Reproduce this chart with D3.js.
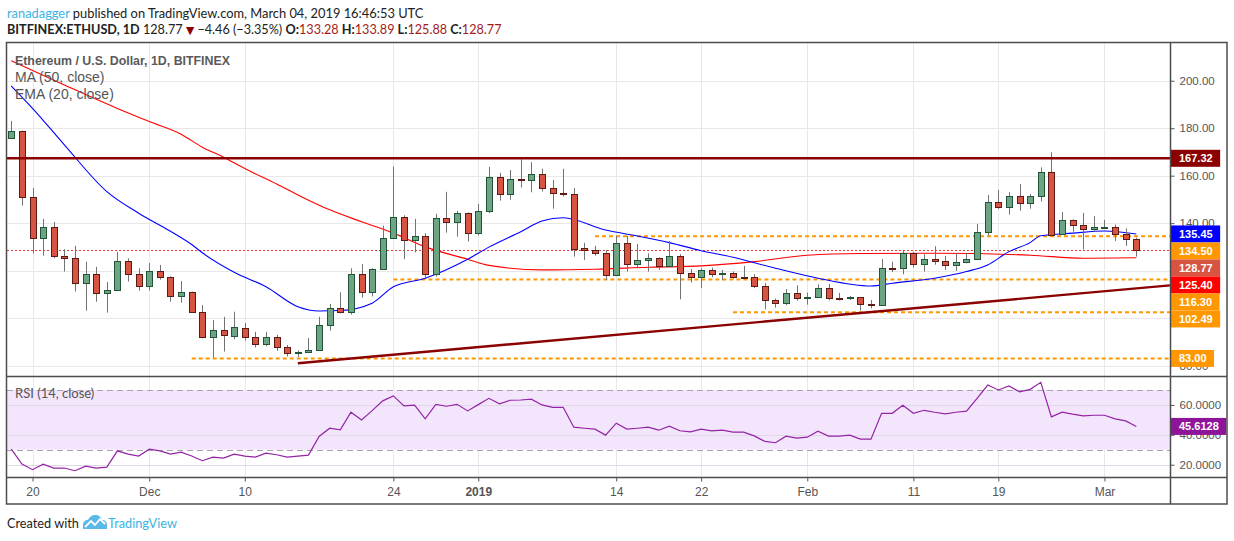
<!DOCTYPE html>
<meta charset="utf-8">
<style>
body { margin: 0; background: #fff; }
svg { display: block; }
.tv text { font-family: "Liberation Sans", Arial, sans-serif; }
.tv .head { font-family: Lato, "Open Sans", sans-serif; fill: #222; }
.axis text { fill: #555; font-size: 11.5px; }
.axis line { stroke: #555; }
.axis .domain { display: none; }
.grid line { stroke: #e8e8e8; shape-rendering: crispEdges; }
.tag text { fill: #fff; font-weight: bold; font-size: 11px; }
</style>

<svg class="tv" width="1234" height="541"></svg>

<script src="https://cdnjs.cloudflare.com/ajax/libs/d3/7.8.5/d3.min.js"></script>

<script>

// ---- data ----
var firstDay = "2018-11-18", lastDay = "2019-03-04";

var opens = [
175.8,178.9,150.9,133.6,138.3,126.0,125.2,114.7,118.5,110.4,
111.7,124.1,118.5,113.4,119.7,117.2,109.2,110.9,102.4,91.9,
94.9,92.7,95.8,91.9,89.0,91.9,87.7,85.2,85.7,86.4,
97.1,104.1,102.5,118.5,110.9,120.6,133.6,142.5,132.8,134.5,
118.5,142.1,140.4,144.2,135.7,145.0,159.3,152.2,158.5,157.9,
160.6,154.7,152.6,152.4,129.4,128.7,127.3,117.9,131.5,122.7,
124.4,125.2,121.7,126.0,118.9,117.3,120.1,118.8,119.0,117.3,
117.2,113.4,107.5,106.2,110.4,108.4,108.8,112.6,108.4,108.3,
108.9,105.9,105.5,121.1,121.0,127.3,122.7,124.8,123.9,122.1,
123.5,124.8,136.2,148.8,146.7,151.3,148.4,151.3,161.4,135.2,
141.2,139.1,137.4,138.2,138.2,135.3,133.28];

var highs = [
183.1,179.0,154.8,141.8,140.5,129.0,130.4,123.7,121.6,115.2,
127.9,125.2,121.0,123.2,122.4,117.6,115.6,111.2,105.5,99.2,
100.5,102.7,97.9,94.2,94.2,92.9,88.7,86.4,91.6,100.5,
106.0,110.9,121.0,122.8,121.0,138.9,163.8,143.3,141.8,135.7,
143.9,153.2,145.2,144.5,148.1,163.7,161.2,162.4,166.9,165.7,
162.9,158.2,162.9,154.8,131.7,130.4,128.7,134.6,134.6,131.2,
127.3,125.6,132.5,126.9,120.7,121.0,121.3,120.3,119.7,122.0,
118.5,114.7,108.2,112.2,113.8,110.7,114.2,114.4,110.6,109.3,
108.9,107.6,124.9,123.7,128.3,127.9,126.9,130.3,126.2,127.3,
127.3,139.7,151.9,154.0,153.0,156.5,152.3,163.5,169.9,144.7,
141.6,144.3,143.0,141.4,139.4,137.8,133.89];

var lows = [
175.5,147.4,127.2,126.3,125.2,119.6,111.2,103.1,106.9,102.3,
111.7,115.4,111.6,111.6,116.2,106.9,106.5,102.4,91.5,83.3,
85.9,91.1,90.5,87.6,88.1,86.2,83.8,83.6,85.6,86.4,
94.7,102.0,101.5,108.6,109.1,120.6,133.6,124.8,127.7,116.8,
117.5,136.0,134.3,132.2,134.8,144.2,149.5,149.9,155.0,153.0,
153.3,146.1,151.2,125.9,124.5,126.3,116.1,117.9,119.6,121.0,
119.6,120.3,121.7,107.9,115.0,112.6,117.2,115.9,116.6,116.4,
112.6,103.7,104.4,105.4,107.4,105.7,108.8,107.5,107.4,107.6,
103.2,104.1,105.3,119.4,118.5,121.3,119.6,122.5,120.3,119.9,
123.1,124.8,134.8,146.0,143.6,145.3,146.1,149.1,134.9,135.2,
136.4,128.9,136.3,138.1,132.5,130.4,125.88];

var closes = [
178.9,150.9,133.6,138.3,126.0,125.2,114.7,118.5,110.4,111.7,
124.1,118.5,113.4,119.7,117.2,109.2,110.9,102.4,91.9,94.9,
92.7,96.3,91.9,89.0,91.9,87.7,85.2,85.7,86.4,97.1,
104.1,102.5,118.5,110.9,120.6,133.6,142.5,132.8,134.5,118.5,
142.1,140.4,144.2,135.7,145.0,159.3,152.2,158.5,157.9,160.6,
154.7,152.6,152.4,129.4,128.7,127.3,117.9,131.5,122.7,124.4,
125.2,121.7,126.0,118.9,117.3,120.1,118.5,119.1,117.2,117.0,
113.4,107.5,106.2,110.4,108.2,108.8,112.6,108.4,108.1,108.9,
105.8,105.5,121.0,120.8,127.3,122.7,124.9,123.9,122.1,123.5,
124.8,136.2,148.8,146.7,151.3,148.4,151.3,161.4,134.9,141.2,
139.1,137.4,138.3,138.4,135.3,133.2,128.77];

var rsi = [
30.4,20.4,16.7,20.4,17.8,17.8,16.0,19.1,17.8,18.4,
29.3,27.1,25.8,30.4,29.3,27.1,28.4,25.8,22.7,25.1,
24.4,27.1,25.8,25.1,27.8,26.7,25.1,25.8,26.4,38.9,
44.4,43.3,55.1,50.0,56.2,62.7,66.0,59.3,59.8,50.7,
60.4,59.1,60.4,56.0,60.2,64.4,60.7,63.1,63.3,63.8,
60.0,58.4,58.4,45.1,44.4,43.8,39.8,47.8,43.8,44.4,
45.1,43.1,45.8,42.7,42.0,43.8,42.7,43.1,41.8,41.8,
39.3,35.6,34.7,39.1,37.8,38.4,42.4,39.1,39.1,39.8,
37.1,37.1,54.4,54.4,59.8,54.4,56.4,55.1,54.0,55.1,
55.8,64.4,73.3,70.0,72.7,68.7,70.4,75.1,52.0,55.1,
53.8,52.7,53.1,53.1,50.7,49.3,45.6128];

var maDates = ["2018-11-18","2018-11-23","2018-11-28","2018-12-01","2018-12-04","2018-12-06",
  "2018-12-08","2018-12-10","2018-12-13","2018-12-15","2018-12-18","2018-12-21","2018-12-24",
  "2018-12-27","2018-12-31","2019-01-02","2019-01-07","2019-01-12","2019-01-17","2019-01-22",
  "2019-01-27","2019-02-01","2019-02-06","2019-02-13","2019-02-22","2019-02-27","2019-03-04"];
var maValues = [208.4,198.2,188.3,182.8,177.5,172.0,167.8,163.0,156.5,151.9,145.6,140.6,135.8,
  130.0,124.8,122.2,120.3,120.6,121.4,122.0,123.8,126.5,127.2,127.3,126.5,125.2,125.40];

var emaDates = ["2018-11-18","2018-11-20","2018-11-23","2018-11-27","2018-11-30","2018-12-03",
  "2018-12-05","2018-12-06","2018-12-09","2018-12-12","2018-12-15","2018-12-17","2018-12-19",
  "2018-12-22","2018-12-24","2018-12-27","2018-12-31","2019-01-02","2019-01-05","2019-01-07",
  "2019-01-09","2019-01-13","2019-01-16","2019-01-19","2019-01-22","2019-01-25","2019-01-29",
  "2019-02-02","2019-02-07","2019-02-09","2019-02-13","2019-02-16","2019-02-18","2019-02-20",
  "2019-02-22","2019-02-23","2019-02-26","2019-03-01","2019-03-04"];
var emaValues = [197.8,188.4,173.0,153.3,144.2,136.6,131.0,127.5,119.3,113.2,104.8,103.0,103.2,
  106.3,113.2,116.8,124.8,129.9,136.4,140.9,142.3,137.1,134.6,131.8,128.4,125.6,121.0,
  116.8,113.5,114.7,116.8,119.6,122.4,128.0,131.8,134.7,135.8,136.7,135.45];

var resistance = 167.32;
var levels = [134.50, 116.30, 102.49, 83.00];
var levelStart = ["2019-01-12", "2018-12-24", "2019-01-25", "2018-12-05"];
var trendDates = ["2018-12-15", "2019-03-04"];
var trendValues = [81.0, 112.5];

var priceTicks = [80, 100, 120, 140, 160, 180, 200];
var rsiTicks = [20, 40, 60];
var dateTicks = ["2018-11-20","2018-12-01","2018-12-10","2018-12-24","2019-01-01","2019-01-14",
  "2019-01-22","2019-02-01","2019-02-11","2019-02-19","2019-03-01"];
var dateTickLabels = ["20","Dec","10","24","2019","14","22","Feb","11","19","Mar"];

// ---- layout ----
var parse = d3.utcParse("%Y-%m-%d");
var paneLeft = 7, paneRight = 1170, paneTop = 43, mainBottom = 376, rsiBottom = 477,
    axisBottom = 504, frameRight = 1227;

var days = d3.utcDay.range(parse(firstDay), d3.utcDay.offset(parse(lastDay), 1));
var candles = days.map(function(d, i) {
	return {date: d, o: opens[i], h: highs[i], l: lows[i], c: closes[i], r: rsi[i]};
});

var x = d3.scaleUtc()
	.domain([parse(firstDay), parse(lastDay)])
	.range([11.3, 1136.3]);

var y = d3.scaleLinear()
	.domain([75.6, 215.9])
	.range([mainBottom, paneTop]);

var yr = d3.scaleLinear()
	.domain([11.8, 79.33])
	.range([rsiBottom, mainBottom]);

var svg = d3.select("svg");
var defs = svg.append("defs");
defs.append("clipPath").attr("id", "clipMain").append("rect")
	.attr("x", paneLeft).attr("y", paneTop).attr("width", paneRight - paneLeft).attr("height", mainBottom - paneTop);
defs.append("clipPath").attr("id", "clipRsi").append("rect")
	.attr("x", paneLeft).attr("y", mainBottom).attr("width", paneRight - paneLeft).attr("height", rsiBottom - mainBottom);

// grid
var grid = svg.append("g").attr("class", "grid");
grid.selectAll("line.h").data(priceTicks).enter().append("line")
	.attr("x1", paneLeft).attr("x2", paneRight)
	.attr("y1", function(d){ return Math.round(y(d)) + 0.5; })
	.attr("y2", function(d){ return Math.round(y(d)) + 0.5; });
grid.selectAll("line.v").data(dateTicks).enter().append("line")
	.attr("x1", function(d){ return Math.round(x(parse(d))) + 0.5; })
	.attr("x2", function(d){ return Math.round(x(parse(d))) + 0.5; })
	.attr("y1", paneTop).attr("y2", rsiBottom);

// rsi band
var rsiG = svg.append("g").attr("clip-path", "url(#clipRsi)");
rsiG.append("rect")
	.attr("x", paneLeft).attr("width", paneRight - paneLeft)
	.attr("y", yr(70)).attr("height", yr(30) - yr(70))
	.attr("fill", "#f3e6fc");
rsiG.selectAll("line.h").data(rsiTicks).enter().append("line")
	.attr("x1", paneLeft).attr("x2", paneRight)
	.attr("y1", function(d){ return Math.round(yr(d)) + 0.5; })
	.attr("y2", function(d){ return Math.round(yr(d)) + 0.5; })
	.attr("stroke", "#e0d8e6");
rsiG.selectAll("line.band").data([70, 30]).enter().append("line")
	.attr("x1", paneLeft).attr("x2", paneRight)
	.attr("y1", function(d){ return Math.round(yr(d)) + 0.5; })
	.attr("y2", function(d){ return Math.round(yr(d)) + 0.5; })
	.attr("stroke", "#aaa3ae").attr("stroke-dasharray", "6,4");
rsiG.append("path")
	.datum(candles)
	.attr("fill", "none").attr("stroke", "#9423a6").attr("stroke-width", 1.2)
	.attr("d", d3.line().x(function(d){ return x(d.date); }).y(function(d){ return yr(d.r); }));

// main pane
var main = svg.append("g").attr("clip-path", "url(#clipMain)");

main.selectAll("line.level").data(levels).enter().append("line")
	.attr("x1", function(d, i){ return x(parse(levelStart[i])); })
	.attr("x2", paneRight)
	.attr("y1", function(d){ return y(d); }).attr("y2", function(d){ return y(d); })
	.attr("stroke", "#ff9800").attr("stroke-width", 2).attr("stroke-dasharray", "4,3");

var lastClose = closes[closes.length - 1];
main.append("line")
	.attr("x1", paneLeft).attr("x2", paneRight)
	.attr("y1", Math.round(y(lastClose)) + 0.5)
	.attr("y2", Math.round(y(lastClose)) + 0.5)
	.attr("stroke", "#e53935").attr("stroke-dasharray", "2,2");

var curve = d3.line()
	.x(function(d){ return x(d.date); })
	.y(function(d){ return y(d.v); })
	.curve(d3.curveMonotoneX);

main.append("path")
	.datum(maDates.map(function(d, i){ return {date: parse(d), v: maValues[i]}; }))
	.attr("fill", "none").attr("stroke", "#ff0000").attr("stroke-width", 1.1)
	.attr("d", curve);
main.append("path")
	.datum(emaDates.map(function(d, i){ return {date: parse(d), v: emaValues[i]}; }))
	.attr("fill", "none").attr("stroke", "#0000ff").attr("stroke-width", 1.1)
	.attr("d", curve);

var bodyW = 6;
var candle = main.selectAll("g.candle").data(candles).enter().append("g")
	.attr("transform", function(d){ return "translate(" + (Math.round(x(d.date)) + 0.5) + ",0)"; });
candle.append("line")
	.attr("y1", function(d){ return y(d.h); })
	.attr("y2", function(d){ return y(d.l); })
	.attr("stroke", "#737375");
candle.append("rect")
	.attr("x", -bodyW / 2)
	.attr("y", function(d){ return Math.round(y(Math.max(d.o, d.c))) + 0.5; })
	.attr("width", bodyW)
	.attr("height", function(d){ return Math.max(1, Math.round(Math.abs(y(d.o) - y(d.c)))); })
	.attr("fill", function(d){ return d.c >= d.o ? "#6ba583" : "#d75442"; })
	.attr("stroke", function(d){ return d.c >= d.o ? "#225437" : "#5b1a13"; });

// resistance and trend line
main.append("line")
	.attr("x1", paneLeft).attr("x2", paneRight)
	.attr("y1", y(resistance)).attr("y2", y(resistance))
	.attr("stroke", "#8b0000").attr("stroke-width", 2.4);

var t0 = parse(trendDates[0]), t1 = parse(trendDates[1]);
var tEnd = x.invert(paneRight);
var vEnd = trendValues[0] + (trendValues[1] - trendValues[0]) * (tEnd - t0) / (t1 - t0);
main.append("line")
	.attr("x1", x(t0)).attr("y1", y(trendValues[0]))
	.attr("x2", x(tEnd)).attr("y2", y(vEnd))
	.attr("stroke", "#8b0000").attr("stroke-width", 2.4);

// axes
svg.append("g")
	.attr("class", "axis")
	.attr("transform", "translate(" + (paneRight + 0.5) + ",0)")
	.call(d3.axisRight(y).tickValues(priceTicks).tickFormat(d3.format(".2f")).tickSize(4).tickPadding(5));

svg.append("g")
	.attr("class", "axis")
	.attr("transform", "translate(" + (paneRight + 0.5) + ",0)")
	.call(d3.axisRight(yr).tickValues(rsiTicks).tickFormat(d3.format(".4f")).tickSize(4).tickPadding(5));

var xAxis = svg.append("g")
	.attr("class", "axis")
	.attr("transform", "translate(0," + (rsiBottom + 0.5) + ")")
	.call(d3.axisBottom(x).tickValues(dateTicks.map(parse))
		.tickFormat(function(d, i){ return dateTickLabels[i]; })
		.tickSize(4).tickPadding(6));
xAxis.selectAll("text").style("font-size", "12px")
	.style("font-weight", function(d, i){ return dateTickLabels[i] === "2019" ? "bold" : null; });

// price tags on the right axis
var tags = [
	{v: resistance, bg: "#8b0000"},
	{v: emaValues[emaValues.length - 1], bg: "#0000ff"},
	{v: levels[0], bg: "#ff9800"},
	{v: lastClose, bg: "#d75442"},
	{v: maValues[maValues.length - 1], bg: "#ff0000"},
	{v: levels[1], bg: "#ff9800"},
	{v: levels[2], bg: "#ff9800"},
	{v: levels[3], bg: "#ff9800"}
];
tags.sort(function(a, b){ return b.v - a.v; });
var tagH = 17, prev = -Infinity;
tags.forEach(function(t){
	t.top = Math.max(y(t.v) - tagH / 2, prev);
	prev = t.top + tagH;
});

function drawTag(g, topY, label, bg) {
	var tg = g.append("g").attr("class", "tag");
	var r = tg.append("rect").attr("x", paneRight + 0.5).attr("y", topY).attr("height", tagH).attr("fill", bg);
	var tx = tg.append("text").attr("x", paneRight + 9).attr("y", topY + 12.5).text(label);
	r.attr("width", tx.node().getComputedTextLength() + 16);
}

var tagG = svg.append("g");
tags.forEach(function(t){ drawTag(tagG, t.top, d3.format(".2f")(t.v), t.bg); });
drawTag(tagG, yr(rsi[rsi.length - 1]) - tagH / 2, d3.format(".4f")(rsi[rsi.length - 1]), "#8e1599");

// frame
var frame = svg.append("g").attr("stroke", "#4d4d4d").attr("stroke-width", 1.5).attr("fill", "none");
frame.append("rect").attr("x", paneLeft - 0.5).attr("y", paneTop - 0.5)
	.attr("width", frameRight - paneLeft + 0.5).attr("height", axisBottom - paneTop + 0.5);
frame.append("line").attr("x1", paneRight + 0.5).attr("x2", paneRight + 0.5).attr("y1", paneTop).attr("y2", axisBottom);
frame.append("line").attr("x1", paneLeft).attr("x2", frameRight).attr("y1", mainBottom + 0.5).attr("y2", mainBottom + 0.5);
frame.append("line").attr("x1", paneLeft).attr("x2", frameRight).attr("y1", rsiBottom + 0.5).attr("y2", rsiBottom + 0.5);

// legends
function fit(sel, target) {
	var w = sel.node().getComputedTextLength();
	var fs = parseFloat(sel.style("font-size"));
	sel.style("font-size", (fs * target / w) + "px");
}

var lg = svg.append("g").attr("class", "head").style("fill", "#555");
fit(lg.append("text").attr("x", 15).attr("y", 65).style("font-size", "13px").style("font-weight", "bold")
	.style("fill", "#5a5a5a").text("Ethereum / U.S. Dollar, 1D, BITFINEX"), 215);
lg.append("text").attr("x", 15).attr("y", 82).style("font-size", "14px").text("MA (50, close)");
lg.append("text").attr("x", 15).attr("y", 99).style("font-size", "14px").text("EMA (20, close)");
svg.append("text").attr("class", "head").attr("x", 15).attr("y", 398)
	.style("font-size", "13px").style("fill", "#555").text("RSI (14, close)");

// header
var h1 = svg.append("text").attr("class", "head").attr("x", 7).attr("y", 18).style("font-size", "14px");
h1.append("tspan").style("fill", "#3bb3e4").text("ranadagger");
h1.append("tspan").text(" published on TradingView.com, March 04, 2019 16:46:53 UTC");
fit(h1, 417);

var valColor = "#a31c1c";
var h2 = svg.append("text").attr("class", "head").attr("x", 7).attr("y", 34).style("font-size", "14px");
h2.append("tspan").style("font-weight", "bold").text("BITFINEX:ETHUSD, 1D");
h2.append("tspan").text(" 128.77 ");
h2.append("tspan").style("fill", "#8b0000").style("font-family", "DejaVu Sans").style("font-size", "0.85em").text("\u25BC");
h2.append("tspan").text(" \u22124.46 (\u22123.35%) ");
[["O:", opens], ["H:", highs], ["L:", lows], ["C:", closes]].forEach(function(p, i){
	h2.append("tspan").style("font-weight", "bold").text((i ? " " : "") + p[0]);
	h2.append("tspan").style("fill", valColor).text(d3.format(".2f")(p[1][p[1].length - 1]));
});
fit(h2, 495);

// footer
var foot = svg.append("g");
var c1 = foot.append("text").attr("class", "head").attr("x", 7).attr("y", 528)
	.style("font-size", "14px").style("fill", "#222").text("Created with");
fit(c1, 72);
var logo = foot.append("g").attr("transform", "translate(83,515)");
logo.append("path")
	.attr("d", "M0,14 L0,10 C0,7 2,5 5,5 C6,2 9,0 12,0 C16,0 18,2 19,5 C22,5 24,7 24,10 L24,14 Z")
	.attr("fill", "#5ab9e6");
logo.append("path")
	.attr("d", "M2,12 L8,6 L12,10 L17,4 L22,9")
	.attr("fill", "none").attr("stroke", "#fff").attr("stroke-width", 1.8);
var c2 = foot.append("text").attr("class", "head").attr("x", 108).attr("y", 528)
	.style("font-size", "14px").style("fill", "#3bb3e4").text("TradingView");
fit(c2, 69);

</script>
